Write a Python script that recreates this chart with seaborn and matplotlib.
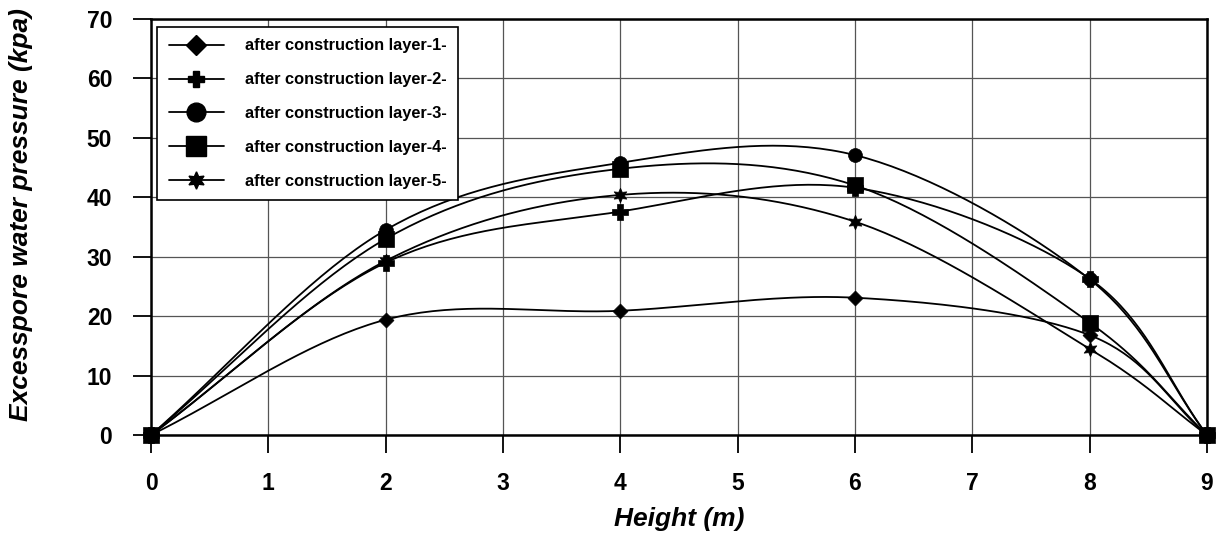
import numpy as np
import pandas as pd
import matplotlib
matplotlib.use("Agg")
import matplotlib.pyplot as plt
from matplotlib.lines import Line2D
import seaborn as sns

height = [0, 2, 4, 6, 8, 9]
layer1 = [0, 19.4, 20.9, 23.1, 16.8, 0]
layer2 = [0, 29.0, 37.6, 41.6, 26.3, 0]
layer3 = [0, 34.5, 45.8, 47.1, 26.2, 0]
layer4 = [0, 33.0, 44.8, 42.0, 18.9, 0]
layer5 = [0, 29.3, 40.4, 35.9, 14.5, 0]
labels = ["after construction layer-1-", "after construction layer-2-",
          "after construction layer-3-", "after construction layer-4-",
          "after construction layer-5-"]
series = [layer1, layer2, layer3, layer4, layer5]
markers = ["D", "P", "o", "s", (6, 1, 0)]
plot_ms = [7.6, 11, 10, 11, 10.5]
legend_ms = [10, 12, 13.5, 14.5, 12.5]

sns.set_theme(style="white")
plt.rcParams['font.family'] = ['Liberation Sans', 'DejaVu Sans']
for k in ["text.color", "axes.labelcolor", "xtick.color", "ytick.color", "axes.edgecolor"]:
    plt.rcParams[k] = "black"


def smooth(x, y, n=40):
    # Catmull-Rom smoothing (like spreadsheet smoothed lines)
    x = np.asarray(x, float); y = np.asarray(y, float)
    px = np.concatenate([[2 * x[0] - x[1]], x, [2 * x[-1] - x[-2]]])
    py = np.concatenate([[2 * y[0] - y[1]], y, [2 * y[-1] - y[-2]]])
    xs, ys = [], []
    for i in range(1, len(px) - 2):
        t = np.linspace(0, 1, n, endpoint=False)
        p0, p1, p2, p3 = (np.array([px[j], py[j]]) for j in (i - 1, i, i + 1, i + 2))
        m1 = (p2 - p0) / 6.0
        m2 = (p3 - p1) / 6.0
        b1 = p1 + m1
        b2 = p2 - m2
        pts = ((1 - t) ** 3)[:, None] * p1 + (3 * (1 - t) ** 2 * t)[:, None] * b1 \
            + (3 * (1 - t) * t ** 2)[:, None] * b2 + (t ** 3)[:, None] * p2
        xs.extend(pts[:, 0]); ys.extend(pts[:, 1])
    xs.append(x[-1]); ys.append(y[-1])
    return np.array(xs), np.array(ys)


fig = plt.figure(figsize=(12.2, 5.39), dpi=100)
ax = fig.add_axes([0.1238, 0.193, 0.8655, 0.7717])

handles = []
for lab, vals, mk, ms, lms in zip(labels, series, markers, plot_ms, legend_ms):
    sx, sy = smooth(height, vals)
    sm = pd.DataFrame({"x": sx, "y": sy})
    sns.lineplot(data=sm, x="x", y="y", ax=ax, color="black", lw=1.3,
                 sort=False, estimator=None)
    pts = pd.DataFrame({"x": height, "y": vals})
    sns.scatterplot(data=pts, x="x", y="y", ax=ax, marker=mk, s=ms ** 2,
                    color="black", edgecolor="black", linewidth=0.5, zorder=5,
                    clip_on=False)
    handles.append(Line2D([0], [0], color="black", lw=1.3, marker=mk,
                          markersize=lms, label=lab))

ax.set_xlim(0, 9)
ax.set_ylim(0, 70)
ax.set_xticks(range(0, 10))
ax.set_yticks(range(0, 71, 10))
ax.grid(True, color="#555555", lw=0.9)
for s in ax.spines.values():
    s.set_color("black")
    s.set_linewidth(1.8)
ax.tick_params(axis="both", which="both", direction="out", length=13, width=1.3,
               color="black", labelsize=16.5, left=True, bottom=True)
ax.tick_params(axis="x", pad=14)
ax.tick_params(axis="y", pad=15)
for t in ax.get_xticklabels() + ax.get_yticklabels():
    t.set_fontweight("bold")
ax.set_xlabel("Height (m)", fontsize=19, fontweight="bold", style="italic")
ax.set_ylabel("Excesspore water pressure (kpa)", fontsize=19, fontweight="bold",
              style="italic")
ax.xaxis.set_label_coords(0.5, -0.172)
ax.yaxis.set_label_coords(-0.1117, 0.529)

leg = ax.legend(handles=handles, loc="upper left", bbox_to_anchor=(0.0057, 0.981),
                borderaxespad=0, fancybox=False, framealpha=1, edgecolor="black",
                prop={"weight": "bold", "size": 11.8}, handlelength=3.4,
                labelspacing=1.15, borderpad=0.7, handletextpad=1.25)
leg.get_frame().set_linewidth(1.2)

fig.savefig("out.png", dpi=100)
